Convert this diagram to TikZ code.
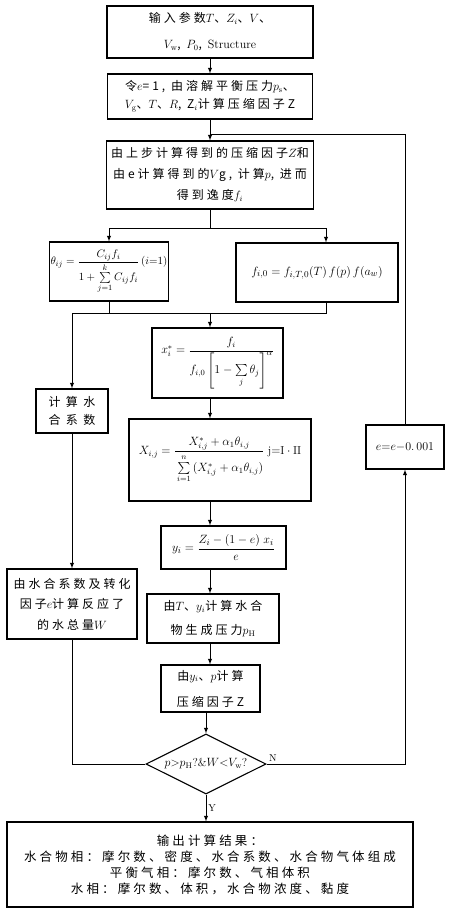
\documentclass[tikz,border=0pt]{standalone}
\usepackage{amsmath}
\usepackage{fontspec}
\newfontfamily\cjk[LetterSpace=25]{Noto Sans CJK SC}
\newfontfamily\cjkwide[LetterSpace=45]{Noto Sans CJK SC}
\usetikzlibrary{shapes.geometric}

\begin{document}
\begin{tikzpicture}[x=1pt, y=-1pt, every node/.style={align=center}]
\tikzset{
  procbox/.style={draw, line width=1.1pt, inner sep=1pt},
  mathbox/.style={procbox, font=\fontsize{11}{13}\selectfont},
  decision/.style={draw, line width=1.1pt, diamond, aspect=2, inner sep=0pt, minimum width=120pt, minimum height=60pt, font=\fontsize{11.5}{13}\selectfont},
  flow/.style={-latex, line width=0.9pt},
  joinline/.style={line width=0.9pt},
  branchlabel/.style={font=\fontsize{10}{12}\selectfont, inner sep=2pt}
}
\useasboundingbox (0,0) rectangle (451,914);

% main column
\node[procbox, minimum width=206pt, minimum height=52pt, font=\cjk\fontsize{12}{26}\selectfont] (input) at (210,32)
  {输入参数$T$、$Z_i$、$V$、\\$V_{\mathrm{w}}$, $P_0$, {\normalfont Structure}};
\node[procbox, minimum width=205pt, minimum height=45pt, font=\cjk\fontsize{12}{18}\selectfont] (init) at (210,96.5)
  {令$e$=1, 由溶解平衡压力$p_{\mathrm{s}}$、\\$V_{\mathrm{g}}$、$T$、$R$, Z$_i$计算压缩因子Z};
\node[procbox, minimum width=207pt, minimum height=68pt, font=\cjk\fontsize{12}{21}\selectfont] (fug) at (210,175)
  {由上步计算得到的压缩因子$Z$和\\由e计算得到的$V$g, 计算$p$, 进而\\得到逸度$f_i$};

\node[mathbox, minimum width=116pt, minimum height=59pt] (theta) at (109,271.5)
  {$\theta_{ij}=\dfrac{C_{ij}f_i}{\rule{0pt}{17pt}1+\sum\limits_{j=1}^{k}C_{ij}f_i}\,(i{=}1)$};
\node[mathbox, minimum width=162pt, minimum height=59pt, font=\fontsize{12.5}{14}\selectfont] (fio) at (317,272.5)
  {$f_{i,0}=f_{i,T,0}(T)\,f(p)\,f(a_w)$};

\node[mathbox, minimum width=131pt, minimum height=70pt, font=\fontsize{12}{14}\selectfont] (xstar) at (217.5,363)
  {$x_i^{*}=\dfrac{f_i}{f_{i,0}\left[1-\sum\limits_{j}\theta_j\right]^{\alpha}}$};
\node[mathbox, minimum width=182pt, minimum height=82pt, font=\fontsize{11.5}{13}\selectfont] (Xij) at (220,460)
  {$X_{i,j}=\dfrac{X^{*}_{i,j}+\alpha_1\theta_{i,j}}{\rule{0pt}{18pt}\sum\limits_{i=1}^{n}\,(X^{*}_{i,j}+\alpha_1\theta_{i,j})}\;\mathrm{j{=}I\cdot II}$};
\node[mathbox, minimum width=125pt, minimum height=43pt, font=\fontsize{12.5}{14}\selectfont] (yi) at (223.5,547.5)
  {$y_i=\dfrac{Z_i-(1-e)\;x_i}{e}$};
\node[procbox, minimum width=132pt, minimum height=49pt, font=\cjk\fontsize{12}{24}\selectfont] (pH) at (213,618.5)
  {由$T$、$y_i$计算水合\\物生成压力$p_{\mathrm{H}}$};
\node[procbox, minimum width=99pt, minimum height=47pt, font=\cjk\fontsize{12}{26}\selectfont] (zfac) at (210.5,688.5)
  {由$y_i$、$p$计算\\压缩因子Z};

\node[decision] (dia) at (206,764) {$p{>}p_{\mathrm{H}}$?\&$W{<}V_{\mathrm{w}}$?};

\node[procbox, minimum width=406pt, minimum height=85pt, font=\cjk\fontsize{12.5}{16}\selectfont] (out) at (210,864.5)
  {输出计算结果：\\水合物相：摩尔数、密度、水合系数、水合物气体组成\\平衡气相：摩尔数、气相体积\\水相：摩尔数、体积，水合物浓度、黏度};

% left branch
\node[procbox, minimum width=72pt, minimum height=44pt, font=\cjkwide\fontsize{12}{18}\selectfont] (hyd) at (72,411)
  {计算水\\合系数};
\node[procbox, minimum width=130pt, minimum height=70pt, font=\cjk\fontsize{12}{20.5}\selectfont] (water) at (72,604)
  {由水合系数及转化\\因子$e$计算反应了\\的水总量$W$};

% loop back
\node[procbox, minimum width=78pt, minimum height=44pt, font=\fontsize{13}{15}\selectfont] (eupd) at (405,447)
  {$e{=}e{-}0.\,001$};

\coordinate (merge) at (210,134);
\coordinate (split) at (210,228);
\coordinate (gather) at (210,313);

\draw[flow] (input) -- (init);
\draw[flow] (init) -- (fug);
\draw[joinline] (fug) -- (split);
\draw[flow] (split) -| (theta.north);
\draw[flow] (split) -| ([xshift=9pt]fio.north);
\draw[joinline] (theta) |- (gather);
\draw[joinline] ([xshift=9pt]fio.south) |- (gather);
\draw[flow] (gather) -| (hyd.north);
\draw[flow] (gather) -- (xstar.north -| gather);
\draw[flow] (xstar.south -| gather) -- (Xij.north -| gather);
\draw[flow] (Xij.south -| gather) -- (yi.north -| gather);
\draw[flow] (yi.south -| gather) -- (pH.north -| gather);
\draw[flow] (pH.south -| gather) -- (zfac.north -| gather);
\draw[flow] (zfac.south -| dia.north) -- (dia.north);
\draw[flow] (hyd) -- (water);
\draw[joinline] (water) |- (dia.west);
\draw[flow] (dia.south) -- node[branchlabel, right] {Y} (out.north -| dia.south);
\draw[flow] (dia.east) -| node[branchlabel, above right, pos=0] {N} (eupd.south);
\draw[joinline] (eupd.north) |- (merge);
\end{tikzpicture}
\end{document}
